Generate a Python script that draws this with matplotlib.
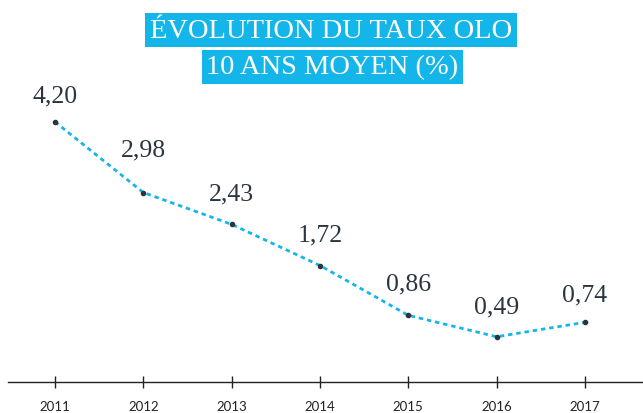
import matplotlib.pyplot as plt

years = [2011, 2012, 2013, 2014, 2015, 2016, 2017]
taux = [4.20, 2.98, 2.43, 1.72, 0.86, 0.49, 0.74]
labels = ["4,20", "2,98", "2,43", "1,72", "0,86", "0,49", "0,74"]

# vertical offset of each value label above its point (points)
label_dy = [19, 31, 22, 22, 23, 22, 20]

CYAN = "#14b6e9"
INK = "#2b3540"

fig = plt.figure(figsize=(6.43, 4.14), dpi=100)
ax = fig.add_axes([8 / 643, 0.075, 635 / 643, 0.925])

ax.plot(years, taux, color=CYAN, linewidth=2, linestyle=(0, (1.6, 1.4)), zorder=2)
ax.scatter(years, taux, s=9, color=INK, zorder=3)

for x, y, lab, dy in zip(years, taux, labels, label_dy):
    ax.annotate(lab, (x, y), xytext=(0, dy), textcoords="offset points",
                ha="center", va="center", fontsize=18.5, color=INK,
                family="Liberation Serif")

ax.set_xlim(2010.468, 2017.657)
ax.set_ylim(-0.29, 6.32)

for side in ["top", "right", "left"]:
    ax.spines[side].set_visible(False)
ax.spines["bottom"].set_color("#222222")
ax.spines["bottom"].set_linewidth(1)
ax.set_yticks([])
ax.set_xticks(years)
ax.set_xticklabels([str(y) for y in years], family="Lato", fontsize=9.5, color="#222222")
ax.tick_params(axis="x", direction="inout", length=8, width=1, color="#222222", pad=9)

# title, one cyan box per line
title_kw = dict(ha="center", va="center", color="white", fontsize=20.5,
                family="Liberation Serif", transform=fig.transFigure)
fig.text(0.515, 0.925, "ÉVOLUTION DU TAUX OLO",
         bbox=dict(facecolor=CYAN, edgecolor="none", pad=3.5), **title_kw)
fig.text(0.517, 0.836, "10 ANS MOYEN (%)",
         bbox=dict(facecolor=CYAN, edgecolor="none", pad=3.5), **title_kw)

fig.savefig("out.png", dpi=100)
